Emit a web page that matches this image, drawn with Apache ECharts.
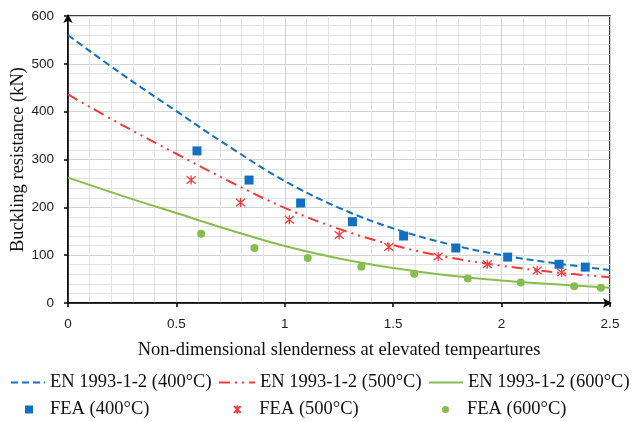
<!DOCTYPE html>
<html><head><meta charset="utf-8">
<script src="https://cdn.jsdelivr.net/npm/echarts@6/dist/echarts.min.js"></script>
<style>html,body{margin:0;padding:0;background:#fff}#c{width:633px;height:422px}</style>
</head><body><div id="c"></div>
<script>
// EN 1993-1-2 design curves
const curveX = [0, 0.25, 0.5, 0.75, 1.0, 1.25, 1.5, 1.75, 2.0, 2.25, 2.5];
const en400 = [560, 478, 401, 325, 255, 199, 156, 124, 100, 83, 69];
const en500 = [436, 372, 312, 253, 199, 155, 121, 96, 78, 64, 54];
const en600 = [262, 224, 188, 152, 119, 93, 73, 58, 47, 39, 32];
// FEA results
const fea400X = [0.595, 0.835, 1.073, 1.312, 1.548, 1.789, 2.028, 2.265, 2.386];
const fea400Y = [318, 257, 209, 170, 140, 115, 96, 81, 75];
const fea500X = [0.568, 0.796, 1.021, 1.251, 1.480, 1.707, 1.934, 2.164, 2.277];
const fea500Y = [257, 210, 174, 142, 117, 97, 81, 68, 64];
const fea600X = [0.614, 0.860, 1.106, 1.353, 1.597, 1.844, 2.088, 2.335, 2.458];
const fea600Y = [145, 115, 94, 76, 61, 51, 43, 35, 32];
const xTicks = [0, 0.5, 1, 1.5, 2, 2.5];
const yTicks = [0, 100, 200, 300, 400, 500, 600];
const names = ['EN 1993-1-2 (400°C)', 'EN 1993-1-2 (500°C)', 'EN 1993-1-2 (600°C)', 'FEA (400°C)', 'FEA (500°C)', 'FEA (600°C)'];

const BLUE = '#1270c0', RED = '#f23a3a', GREEN = '#86be4e';
const zip = (a, b) => a.map((v, i) => [v, b[i]]);
const serif = 'Liberation Serif';
function leg(name, left, top, w, h, isLine, padLeft) {
  const o = {data: [name], left: left, top: top, itemWidth: w, itemHeight: h, padding: 0,
    selectedMode: false,
    textStyle: {fontFamily: serif, fontSize: 18.5, color: '#111', padding: [0, 0, 0, padLeft || 0]}};
  if (isLine) o.itemStyle = {opacity: 0, color: 'transparent', borderWidth: 0};
  return o;
}
const starPath = 'path://M0,0L10,10M10,0L0,10M5,-1L5,11';

const chart = echarts.init(document.getElementById('c'));
chart.setOption({
  animation: false,
  grid: {left: 68, right: 23, top: 16, height: 287, outerBoundsMode: 'none', containLabel: false,
    show: true, borderColor: '#000', borderWidth: 1.5, backgroundColor: 'transparent'},
  xAxis: {
    type: 'value', min: 0, max: 2.5, interval: 0.5,
    axisLine: {show: true, onZero: false, lineStyle: {color: '#000', width: 1.5}, symbol: ['none', 'arrow'], symbolSize: [7, 9], symbolOffset: [0, 2]},
    axisTick: {show: true, length: 4, lineStyle: {color: '#000', width: 1.5}},
    axisLabel: {margin: 14, fontFamily: 'Liberation Sans', fontSize: 13.5, color: '#222',
      formatter: v => (xTicks.includes(v) ? String(v) : '')},
    splitLine: {show: true, lineStyle: {color: '#d2d2d2', width: 1}},
    minorTick: {show: false, splitNumber: 5},
    minorSplitLine: {show: true, lineStyle: {color: '#e3e3e3', width: 1}},
    name: 'Non-dimensional slenderness at elevated tempeartures', nameLocation: 'middle', nameGap: 38,
    nameTextStyle: {fontFamily: serif, fontSize: 18.5, color: '#111'}
  },
  yAxis: {
    type: 'value', min: 0, max: 600, interval: 100,
    axisLine: {show: true, onZero: false, lineStyle: {color: '#000', width: 1.5}, symbol: ['none', 'arrow'], symbolSize: [7, 9], symbolOffset: [0, 2]},
    axisTick: {show: true, length: 4, lineStyle: {color: '#000', width: 1.5}},
    axisLabel: {margin: 14, fontFamily: 'Liberation Sans', fontSize: 13.5, color: '#222',
      formatter: v => (yTicks.includes(v) ? String(v) : '')},
    splitLine: {show: true, lineStyle: {color: '#d2d2d2', width: 1}},
    minorTick: {show: false, splitNumber: 5},
    minorSplitLine: {show: true, lineStyle: {color: '#e3e3e3', width: 1}},
    name: 'Buckling resistance (kN)', nameLocation: 'middle', nameGap: 40, nameMoveOverlap: false,
    nameTextStyle: {fontFamily: serif, fontSize: 18.5, color: '#111'}
  },
  legend: [
    leg(names[0], 10, 373, 34, 14, true),
    leg(names[1], 218, 373, 36, 14, true),
    leg(names[2], 428, 373, 34, 14, true),
    leg(names[3], 25, 400, 8, 8, false, 12),
    leg(names[4], 233, 400, 8, 8, false, 13),
    leg(names[5], 442, 400, 7, 7, false, 13)
  ],
  series: [
    {name: names[0], type: 'line', data: zip(curveX, en400), smooth: 0.4, symbol: 'none', color: BLUE,
      lineStyle: {color: BLUE, width: 2, type: [7, 4]}, z: 2},
    {name: names[1], type: 'line', data: zip(curveX, en500), smooth: 0.4, symbol: 'none', color: RED,
      lineStyle: {color: RED, width: 2, type: [11, 5, 2, 5, 2, 5]}, z: 2},
    {name: names[2], type: 'line', data: zip(curveX, en600), smooth: 0.4, symbol: 'none', color: GREEN,
      lineStyle: {color: GREEN, width: 2}, z: 2},
    {name: names[3], type: 'scatter', data: zip(fea400X, fea400Y), symbol: 'rect', symbolSize: 9,
      itemStyle: {color: BLUE, opacity: 1}, z: 3},
    {name: names[4], type: 'scatter', data: zip(fea500X, fea500Y), symbol: starPath, symbolSize: 9,
      itemStyle: {color: RED, borderColor: RED, borderWidth: 1.3, opacity: 1}, z: 3},
    {name: names[5], type: 'scatter', data: zip(fea600X, fea600Y), symbol: 'circle', symbolSize: 8,
      itemStyle: {color: GREEN, opacity: 1}, z: 3}
  ]
});
</script></body></html>
